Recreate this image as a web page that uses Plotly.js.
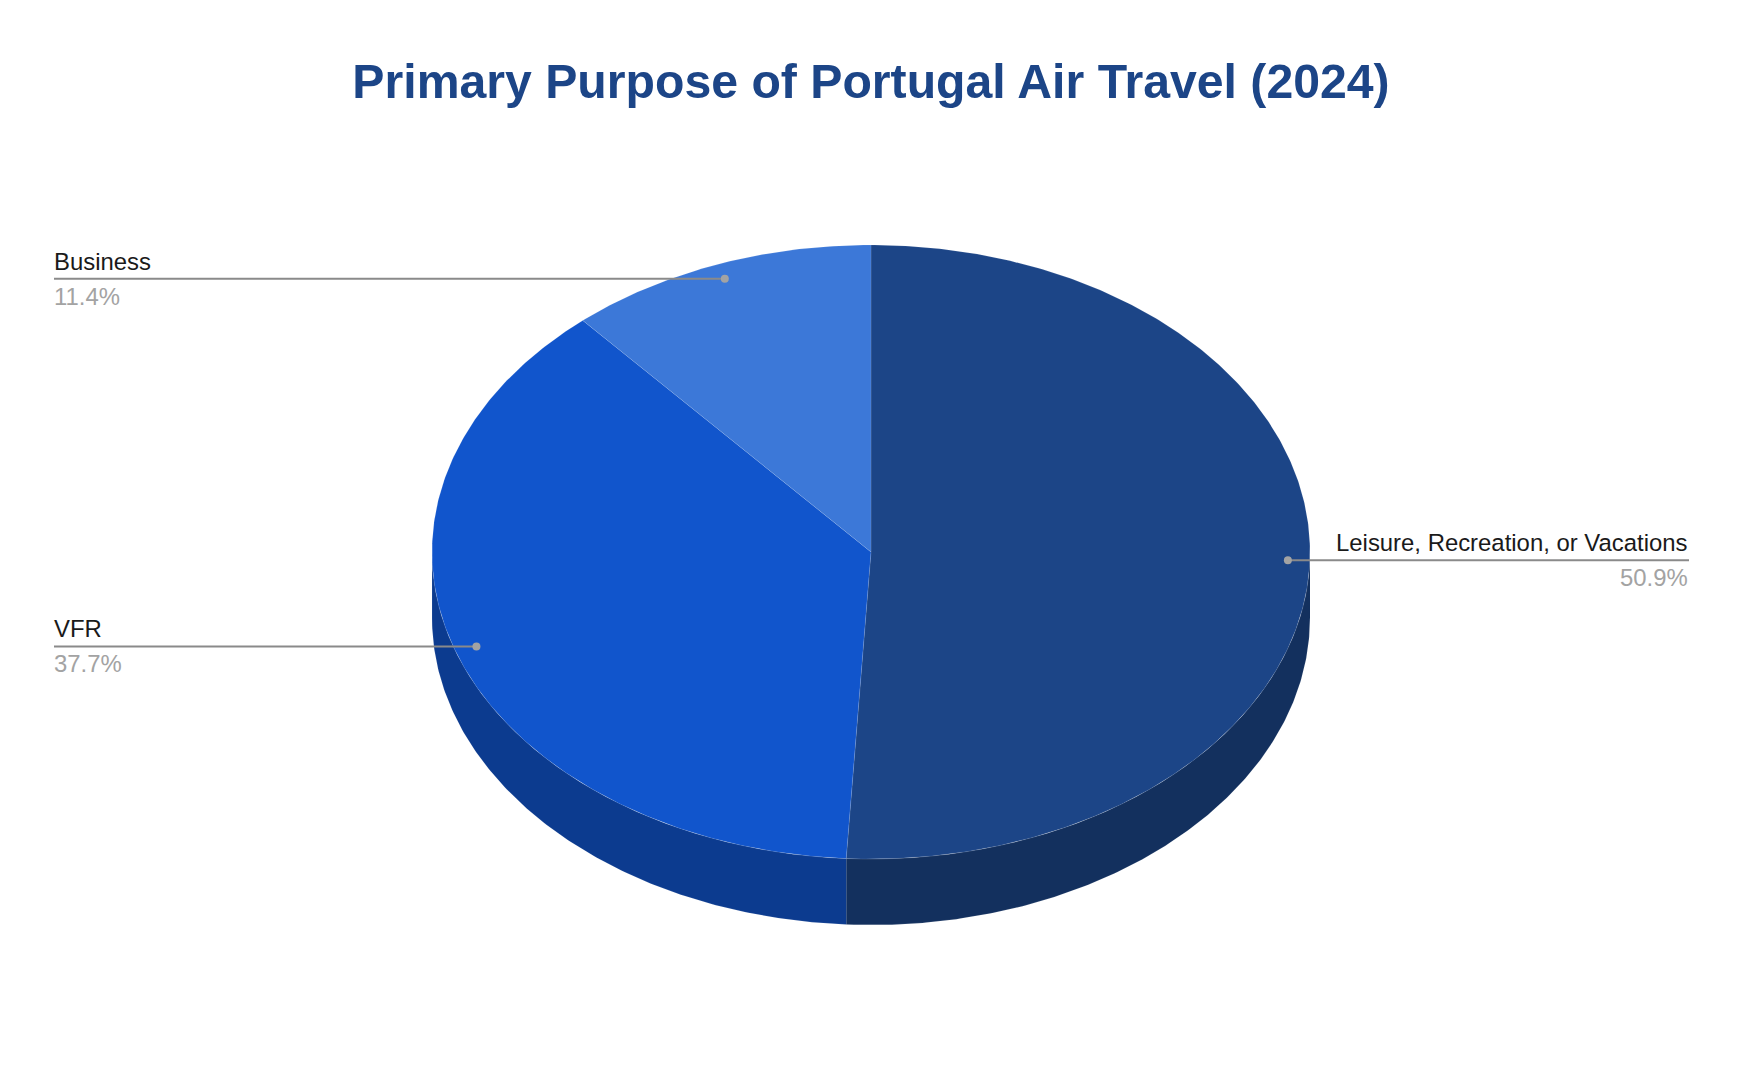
<!DOCTYPE html>
<html>
<head>
<meta charset="utf-8">
<script src="https://cdn.plot.ly/plotly-3.0.1.min.js"></script>
<style>html,body{margin:0;padding:0;background:#fff}#chart{width:1742px;height:1078px}</style>
</head>
<body>
<div id="chart"></div>
<script>
const categories = ["Leisure, Recreation, or Vacations", "VFR", "Business"];
const shares = [50.9, 37.7, 11.4];
const topColors = ["#1c4587", "#1155cc", "#3c78d8"];
const sideColors = ["#13305e", "#0c3b8f", "#2a5497"];
const titleText = "Primary Purpose of Portugal Air Travel (2024)";

// page layout (pixels)
const W = 1742, H = 1078;
const cx = 871, cy = 552, rx = 439, ry = 307, depthPx = 66;
const labelLeftPx = 54, labelRightPx = 1689;

// The pie is drawn in unit-circle space; the axes map that to the page.
const xRange = [-cx / rx, (W - cx) / rx];
const yRange = [(cy - H) / ry, cy / ry];
const depth = depthPx / ry;
const rad = d => d * Math.PI / 180;
const px = a => Math.sin(rad(a));
const py = a => Math.cos(rad(a));
const arc = (a0, a1) => {
  const n = Math.max(2, Math.ceil(Math.abs(a1 - a0) / 0.5));
  return Array.from({length: n + 1}, (_, i) => a0 + (a1 - a0) * i / n);
};
const edge = "rgba(255,255,255,0.15)";
const traces = [], annotations = [];

// slice angle spans, clockwise from 12 o'clock
let acc = 0;
const spans = shares.map(v => { const s = [acc * 3.6, (acc + v) * 3.6]; acc += v; return s; });

// side wall: only the front half (90..270 degrees) is visible
spans.forEach((s, i) => {
  const a0 = Math.max(s[0], 90), a1 = Math.min(s[1], 270);
  if (a1 <= a0) return;
  const as = arc(a0, a1);
  traces.push({
    type: "scatter", mode: "lines", fill: "toself", fillcolor: sideColors[i],
    line: {color: edge, width: 0.7}, hoverinfo: "skip",
    x: as.map(px).concat(as.slice().reverse().map(px)),
    y: as.map(a => py(a) - depth).concat(as.slice().reverse().map(py))
  });
});

// top face
spans.forEach((s, i) => {
  const as = arc(s[0], s[1]);
  traces.push({
    type: "scatter", mode: "lines", fill: "toself", fillcolor: topColors[i],
    line: {color: edge, width: 0.7}, name: categories[i],
    hoverinfo: "name",
    x: [0].concat(as.map(px), [0]),
    y: [0].concat(as.map(py), [0])
  });
});

// leader lines, dots and labels
const leftEdge = (labelLeftPx - cx) / rx, rightEdge = (labelRightPx - cx) / rx;
spans.forEach((s, i) => {
  const mid = (s[0] + s[1]) / 2;
  const dx = 0.95 * px(mid), dy = 0.95 * py(mid);
  const right = mid < 180;
  const end = right ? rightEdge : leftEdge;
  traces.push({type: "scatter", mode: "lines", x: [dx, end], y: [dy, dy],
    line: {color: "#8a8a8a", width: 2}, hoverinfo: "skip"});
  traces.push({type: "scatter", mode: "markers", x: [dx], y: [dy],
    marker: {color: "#a3a3a3", size: 8}, hoverinfo: "skip"});
  const common = {xref: "x", yref: "y", x: end, y: dy, showarrow: false, xshift: right ? -1 : 0,
    xanchor: right ? "right" : "left", borderpad: 0, borderwidth: 0};
  annotations.push(Object.assign({}, common, {text: categories[i], yanchor: "bottom", yshift: 4,
    font: {family: "Liberation Sans, Arial, sans-serif", size: 23.9, color: "#1a1a1a"}}));
  annotations.push(Object.assign({}, common, {text: shares[i].toFixed(1) + "%", yanchor: "top", yshift: -4,
    font: {family: "Liberation Sans, Arial, sans-serif", size: 23.9, color: "#a3a3a3"}}));
});

const axis = r => ({range: r, visible: false, fixedrange: true, showgrid: false, zeroline: false});
Plotly.newPlot("chart", traces, {
  width: W, height: H,
  margin: {l: 0, r: 0, t: 0, b: 0, pad: 0},
  paper_bgcolor: "#ffffff", plot_bgcolor: "#ffffff",
  showlegend: false,
  title: {text: "<b>" + titleText + "</b>", x: 0.5, xanchor: "center", y: 1 - 81 / H, yanchor: "middle",
    font: {family: "Liberation Sans, Arial, sans-serif", size: 48.2, color: "#1c4587"}},
  xaxis: axis(xRange), yaxis: axis(yRange),
  annotations: annotations
}, {displayModeBar: false});
</script>
</body>
</html>
